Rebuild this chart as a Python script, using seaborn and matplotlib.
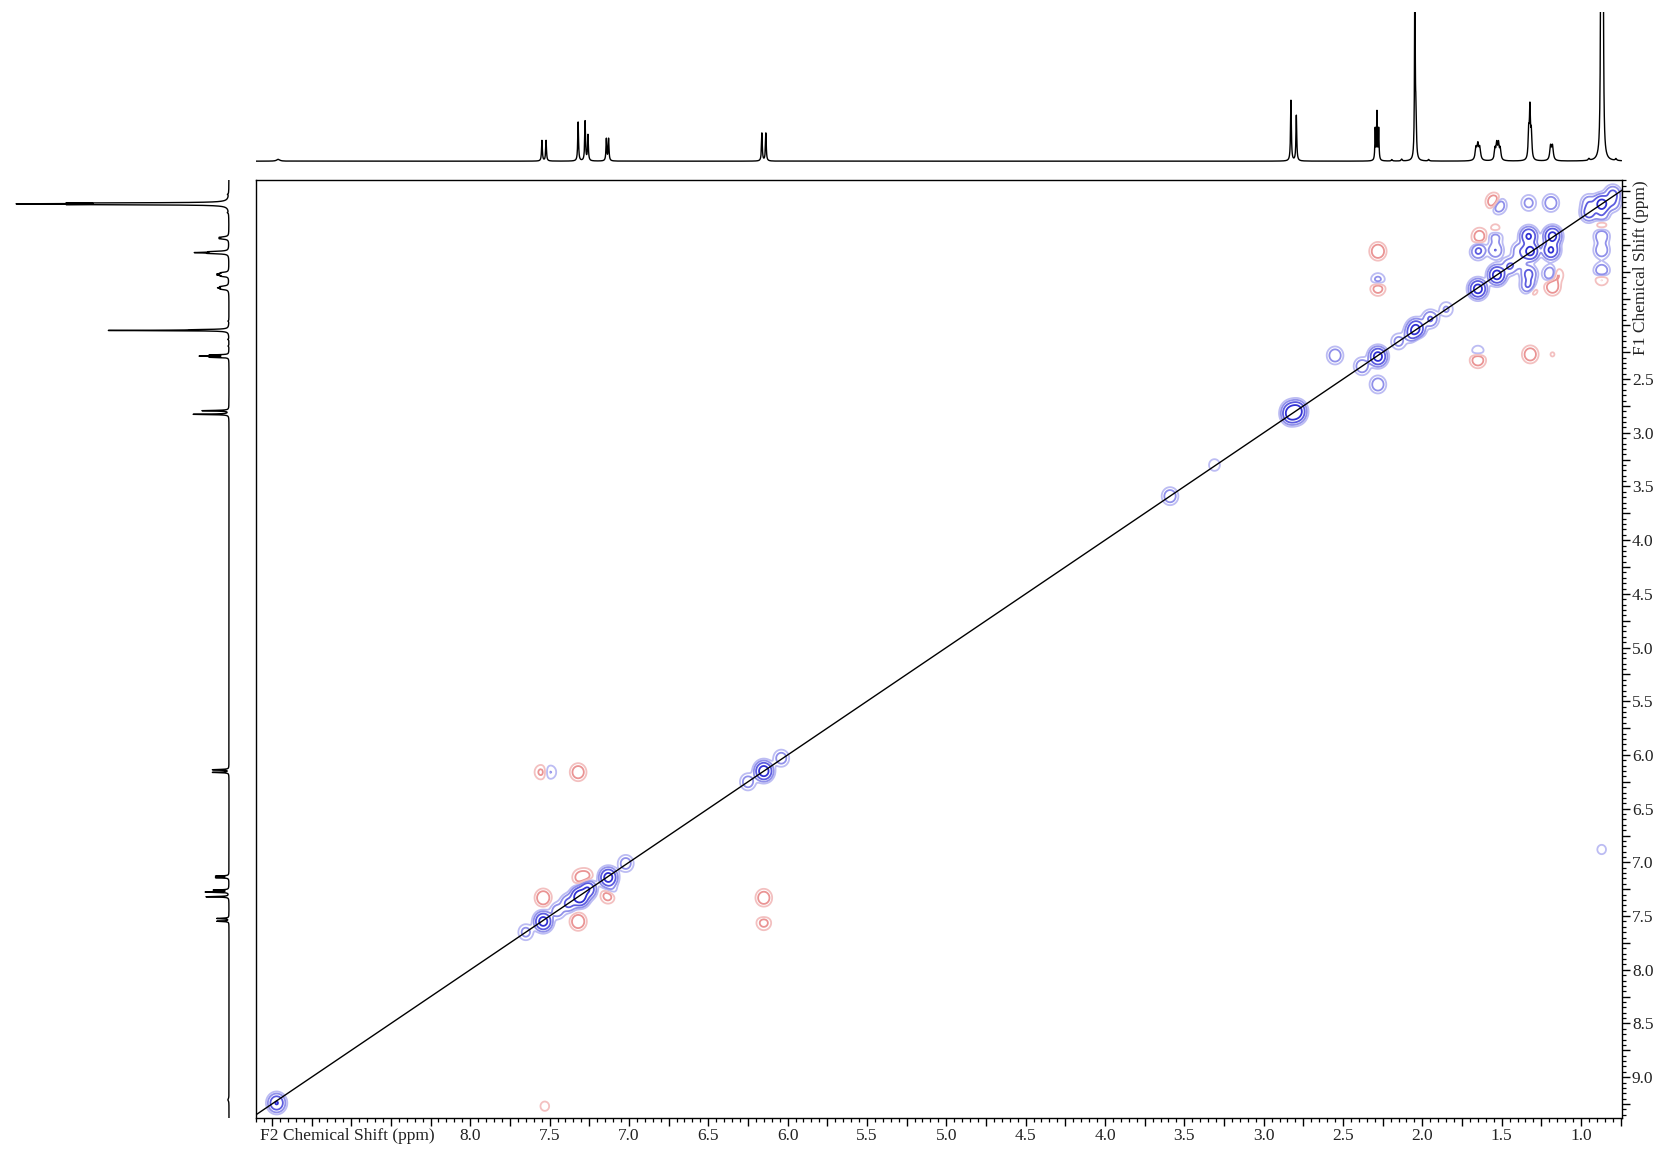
import matplotlib

matplotlib.use("Agg")

import numpy as np
import pandas as pd
import matplotlib.pyplot as plt
import seaborn as sns
from matplotlib.ticker import FuncFormatter, MultipleLocator

# 1D proton spectrum: line positions (ppm), heights, half widths (ppm)
shifts_1d = [9.21, 7.548, 7.522, 7.320, 7.276, 7.258, 7.142, 7.128, 6.162, 6.137,
             2.828, 2.794, 2.297, 2.286, 2.275, 2.192, 2.130, 2.047, 2.040, 1.960,
             1.662, 1.650, 1.638, 1.542, 1.531, 1.520, 1.509, 1.330, 1.322, 1.313,
             1.192, 1.180, 0.950, 0.875, 0.868, 0.861, 0.780]
heights_1d = [0.5, 5.6, 5.6, 10.6, 10.8, 7.0, 6.0, 6.0, 7.6, 7.6,
              16.5, 12.4, 8.5, 13.0, 8.5, 0.4, 0.5, 54.0, 12.0, 0.4,
              3.2, 4.0, 3.2, 3.0, 4.2, 4.2, 3.0, 7.0, 13.5, 7.0,
              3.8, 3.8, 0.5, 60.0, 80.0, 60.0, 0.5]
hwhm_1d = [0.012, 0.003, 0.003, 0.003, 0.003, 0.003, 0.003, 0.003, 0.003, 0.003,
           0.003, 0.003, 0.0025, 0.0025, 0.0025, 0.004, 0.004, 0.0025, 0.003, 0.004,
           0.006, 0.006, 0.006, 0.005, 0.005, 0.005, 0.005, 0.004, 0.004, 0.004,
           0.006, 0.006, 0.005, 0.003, 0.003, 0.003, 0.005]

# 2D COSY cross peaks: F2 (x), F1 (y) in ppm, signed amplitude
peak_f2 = [9.22, 7.65, 7.54, 7.45, 7.38, 7.31, 7.26, 7.13, 7.02, 6.25,
           6.15, 6.04, 3.59, 3.31, 2.83, 2.79, 2.83, 2.79, 2.38, 2.28,
           2.15, 2.04, 2.06, 1.95, 1.85, 1.65, 1.53, 1.45, 1.39, 1.32,
           1.18, 0.87, 0.95, 0.80,
           7.55, 7.50, 7.32, 7.54, 7.32, 6.15, 6.15, 6.15, 7.31, 7.27,
           7.13, 7.12, 7.53, 0.87,
           2.28, 2.28, 2.28, 2.28, 2.55, 1.65, 1.65, 1.32, 1.18, 1.545,
           1.525, 1.33, 1.19, 1.64, 1.65, 1.66, 1.54, 1.54, 1.54, 1.33,
           1.19, 1.33, 1.33, 1.31, 1.19, 1.16, 1.18, 0.87, 0.87, 0.87,
           0.87, 0.87, 0.87, 1.39, 2.04, 0.95, 0.80]
peak_f1 = [9.24, 7.65, 7.55, 7.45, 7.38, 7.32, 7.25, 7.14, 7.01, 6.25,
           6.15, 6.03, 3.59, 3.30, 2.83, 2.79, 2.79, 2.83, 2.38, 2.29,
           2.15, 2.03, 2.08, 1.94, 1.85, 1.66, 1.53, 1.45, 1.40, 1.31,
           1.17, 0.87, 0.95, 0.78,
           6.16, 6.16, 6.16, 7.33, 7.55, 7.33, 7.55, 7.52, 7.14, 7.13,
           7.30, 7.27, 9.27, 6.88,
           1.31, 1.64, 1.595, 2.55, 2.28, 2.31, 2.265, 2.27, 2.27, 0.853,
           0.878, 0.86, 0.86, 1.17, 1.30, 1.28, 1.17, 1.12, 1.30, 1.17,
           1.30, 1.52, 1.63, 1.66, 1.52, 1.53, 1.64, 1.17, 1.30, 1.50,
           1.55, 0.98, 1.05, 1.30, 2.11, 0.86, 0.86]
peak_amp = [2.0, 0.4, 3.0, 0.5, 1.0, 4.0, 2.0, 3.0, 0.5, 0.5,
            3.5, 0.5, 0.6, 0.2, 2.5, 2.5, 1.2, 1.2, 0.6, 3.0,
            0.4, 2.5, 1.2, 0.8, 0.3, 3.0, 3.0, 0.8, 0.6, 2.8,
            2.8, 3.0, 1.2, 1.0,
            -0.35, 0.3, -0.6, -0.7, -0.7, -0.6, -0.6, 0.3, -0.4, -0.35,
            -0.7, 0.5, -0.15, 0.15,
            -0.7, -0.7, 0.6, 0.6, 0.6, -0.8, 0.5, -0.6, -0.1, -1.0,
            1.0, 0.4, 0.6, -0.5, 1.2, -0.4, 0.5, -0.3, 0.7, 2.2,
            2.2, 1.0, 1.0, -0.4, 0.8, -0.5, -0.6, 0.6, 0.6, 0.8,
            -0.5, 0.6, -0.3, 0.5, -0.4, 0.6, 0.6]

x_ticklabel_range = (1.0, 8.0)
y_ticklabel_range = (2.5, 9.0)


def spectrum_1d(ppm):
    trace = np.zeros_like(ppm)
    for pos, h, w in zip(shifts_1d, heights_1d, hwhm_1d):
        trace += h / (1.0 + ((ppm - pos) / w) ** 2)
    return trace


def cosy_map(f2, f1, sx=0.027, sy=0.043):
    px = np.asarray(peak_f2)[:, None]
    py = np.asarray(peak_f1)[:, None]
    amp = np.asarray(peak_amp)[:, None]
    gx = np.exp(-0.5 * ((f2[None, :] - px) / sx) ** 2)
    gy = np.exp(-0.5 * ((f1[None, :] - py) / sy) ** 2)
    return (gy * amp).T @ gx


def label_formatter(lo, hi):
    def fmt(v, _pos):
        if lo - 1e-6 <= v <= hi + 1e-6 and abs(v * 2 - round(v * 2)) < 1e-6:
            return f"{v:.1f}"
        return ""
    return FuncFormatter(fmt)


sns.set_theme(style="white")
plt.rcParams["font.family"] = ["Liberation Serif", "DejaVu Serif"]
plt.rcParams["font.size"] = 12.5

W, H = 1664, 1153
fig = plt.figure(figsize=(W / 100, H / 100), dpi=100)
x0, x1 = 256 / W, 1621.5 / W
y_bot, y_top = 1 - 1118 / H, 1 - 180.4 / H
ax = fig.add_axes([x0, y_bot, x1 - x0, y_top - y_bot])
ax_top = fig.add_axes([x0, 1 - 163 / H, x1 - x0, 151 / H], sharex=ax)
ax_left = fig.add_axes([10 / W, y_bot, 222 / W, y_top - y_bot], sharey=ax)

# 2D contours
f2 = np.arange(0.65, 9.45, 0.004)
f1 = np.arange(0.55, 9.45, 0.005)
Z = cosy_map(f2, f1)
pos_levels = [0.09, 0.25, 0.7, 1.9]
blue_cols = ["#bcbcf3", "#9090ea", "#5c5cdf", "#3030d2"]
neg_levels = [-1.9, -0.7, -0.25, -0.09]
red_cols = ["#d23030", "#df6262", "#ea9494", "#f3c0c0"]
ax.contour(f2, f1, Z, levels=pos_levels, colors=blue_cols, linewidths=1.3)
ax.contour(f2, f1, Z, levels=neg_levels, colors=red_cols, linewidths=1.3)

diag = pd.DataFrame({"f2": [9.5, 0.5], "f1": [9.5, 0.5]})
sns.lineplot(data=diag, x="f2", y="f1", ax=ax, color="black", linewidth=1.0,
             estimator=None, sort=False, zorder=5)

ax.set_xlim(9.35, 0.745)
ax.set_ylim(9.38, 0.65)
ax.set_xlabel("")
ax.set_ylabel("")
for side in ["top", "bottom", "left", "right"]:
    ax.spines[side].set_visible(True)
    ax.spines[side].set_color("black")
    ax.spines[side].set_linewidth(1.0)

ax.xaxis.set_major_locator(MultipleLocator(0.25))
ax.xaxis.set_minor_locator(MultipleLocator(0.05))
ax.yaxis.set_major_locator(MultipleLocator(0.25))
ax.yaxis.set_minor_locator(MultipleLocator(0.05))
ax.xaxis.set_major_formatter(label_formatter(*x_ticklabel_range))
ax.yaxis.set_major_formatter(label_formatter(*y_ticklabel_range))
ax.yaxis.tick_right()
ax.tick_params(axis="both", which="major", direction="out", length=5.5, width=1.0,
               color="black", labelsize=12.5, labelcolor="#222222", pad=2,
               bottom=True, right=True, left=False, top=False)
ax.tick_params(axis="both", which="minor", direction="out", length=3.0, width=0.9,
               color="black", bottom=True, right=True, left=False, top=False)
ax.grid(False)

ax.annotate("F2 Chemical Shift (ppm)", xy=(0, 0), xycoords="axes fraction",
            xytext=(3, -7.5), textcoords="offset points", ha="left", va="top",
            fontsize=12.5, color="#222222")
ax.annotate("F1 Chemical Shift (ppm)", xy=(1, 1), xycoords="axes fraction",
            xytext=(14, 0), textcoords="offset points", ha="center", va="top",
            rotation=90, fontsize=12.5, color="#222222")

# 1D projections
ppm = np.linspace(0.6, 9.45, 40000)
trace = pd.DataFrame({"ppm": ppm, "intensity": spectrum_1d(ppm)})

sns.lineplot(data=trace, x="ppm", y="intensity", ax=ax_top, color="black",
             linewidth=1.0, estimator=None, sort=False)
ax_top.set_ylim(-0.5, 40.6)
ax_top.axis("off")

sns.lineplot(data=trace, x="intensity", y="ppm", ax=ax_left, color="black",
             linewidth=1.0, estimator=None, sort=False, orient="y")
ax_left.set_xlim(101.4, -1.4)
ax_left.axis("off")

fig.savefig("out.png", dpi=100)
